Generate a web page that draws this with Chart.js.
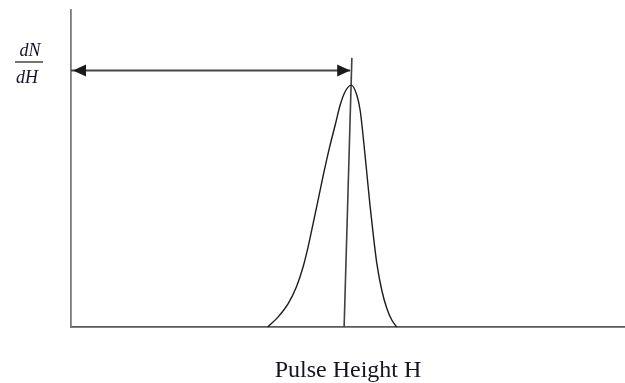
<!DOCTYPE html>
<html>
<head>
<meta charset="utf-8">
<title>Pulse Height Spectrum</title>
<script src="https://cdn.jsdelivr.net/npm/chart.js@4/dist/chart.umd.min.js"></script>
<style>
  html, body { margin: 0; padding: 0; background: #ffffff; }
  #wrap { width: 625px; height: 383px; }
</style>
</head>
<body>
<div id="wrap"><canvas id="c" width="625" height="383"></canvas></div>
<script>
// Pulse height (arbitrary units) and counts dN/dH of the photopeak
const pulseHeight = [35.5, 37.4, 39.2, 40.7, 41.9, 42.8, 43.7, 44.6, 45.5, 46.7, 47.7, 48.6, 49.5,
                     50.6, 51.6, 52.2, 52.8, 53.4, 54.0, 54.6, 55.2, 56.1, 57.0, 57.9, 58.8];
const countsPerH  = [0, 3.2, 7.4, 12.7, 19.0, 25.3, 32.6, 40.0, 47.6, 56.9, 63.8, 70.1, 74.3,
                     76.3, 73.1, 68.3, 59.0, 48.5, 37.9, 28.5, 20.1, 11.6, 5.9, 2.2, 0];

// Marker line through the peak (H at foot, H at top) and its height
const markerH = [49.3, 50.7];
const markerN = [0, 84.9];

// Double arrow from the origin to the peak position
const arrowH = [0, 50.4];
const arrowLevel = 80.9;

// Axis labels
const xTitle = 'Pulse Height H';
const yTitleTop = 'dN';
const yTitleBottom = 'dH';

const toPoints = (xs, ys) => xs.map((x, i) => ({ x: x, y: Array.isArray(ys) ? ys[i] : ys }));

// Draws arrowheads at both ends of the arrow dataset and the dN/dH fraction label
const annotate = {
  id: 'annotate',
  afterDatasetsDraw(chart) {
    const ctx = chart.ctx;
    const meta = chart.getDatasetMeta(2);
    const p0 = meta.data[0], p1 = meta.data[1];
    const len = 13, half = 6;
    ctx.save();
    ctx.fillStyle = '#1a1a1a';
    // left-pointing head
    ctx.beginPath();
    ctx.moveTo(p0.x + 2, p0.y);
    ctx.lineTo(p0.x + 2 + len, p0.y - half);
    ctx.lineTo(p0.x + 2 + len, p0.y + half);
    ctx.closePath();
    ctx.fill();
    // right-pointing head
    ctx.beginPath();
    ctx.moveTo(p1.x, p1.y);
    ctx.lineTo(p1.x - len, p1.y - half);
    ctx.lineTo(p1.x - len, p1.y + half);
    ctx.closePath();
    ctx.fill();

    // fraction label
    ctx.fillStyle = '#141428';
    ctx.font = 'italic 18px "Liberation Serif", "DejaVu Serif", serif';
    ctx.textAlign = 'center';
    ctx.textBaseline = 'alphabetic';
    ctx.fillText(yTitleTop, 30, 56);
    ctx.fillText(yTitleBottom, 27, 82.5);
    ctx.strokeStyle = '#444';
    ctx.lineWidth = 1.5;
    ctx.beginPath();
    ctx.moveTo(15, 62);
    ctx.lineTo(43, 62);
    ctx.stroke();
    ctx.restore();
  }
};

new Chart(document.getElementById('c'), {
  type: 'line',
  data: {
    datasets: [
      {
        data: toPoints(pulseHeight, countsPerH),
        borderColor: '#1c1c1c',
        borderWidth: 1.4,
        pointRadius: 0,
        cubicInterpolationMode: 'monotone',
        fill: false
      },
      {
        data: toPoints(markerH, markerN),
        borderColor: '#404040',
        borderWidth: 1.6,
        pointRadius: 0,
        tension: 0
      },
      {
        data: toPoints(arrowH, arrowLevel),
        borderColor: '#474747',
        borderWidth: 2,
        pointRadius: 0,
        tension: 0
      }
    ]
  },
  options: {
    responsive: false,
    animation: false,
    events: [],
    clip: false,
    layout: { padding: { left: 71, top: 10, right: 0, bottom: 0 } },
    plugins: { legend: { display: false }, tooltip: { enabled: false } },
    scales: {
      x: {
        type: 'linear',
        min: 0,
        max: 100,
        grid: { display: false, drawTicks: false },
        ticks: { display: false },
        border: { display: true, color: '#5a5a5a', width: 1.8 },
        title: {
          display: true,
          text: xTitle,
          color: '#141420',
          font: { family: '"Liberation Serif", "DejaVu Serif", serif', size: 24, lineHeight: 1 },
          padding: { top: 32, bottom: 0 }
        }
      },
      y: {
        type: 'linear',
        min: 0,
        max: 100,
        grid: { display: false, drawTicks: false },
        ticks: { display: false },
        border: { display: true, color: '#7a7a7a', width: 1.8 }
      }
    }
  },
  plugins: [annotate]
});
</script>
</body>
</html>
